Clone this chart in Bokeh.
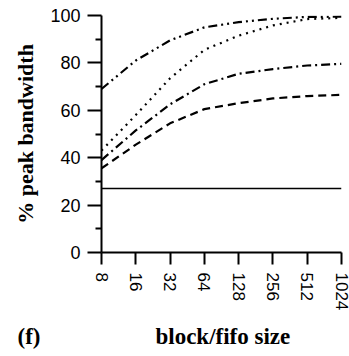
import math
from bokeh.plotting import figure
from bokeh.models import FixedTicker, Range1d, Title, ColumnDataSource
from bokeh.embed import file_html
from bokeh.resources import INLINE

# ---- data ----
sizes = [8, 16, 32, 64, 128, 256, 512, 1024]
series_dashdotdot = [69.0, 81.0, 89.5, 95.0, 97.2, 98.6, 99.4, 99.5]
series_dotted = [43.0, 58.0, 73.5, 85.5, 91.5, 95.8, 98.5, 99.0]
series_dashdot = [39.0, 51.5, 62.5, 71.0, 75.4, 77.4, 78.9, 79.6]
series_dashed = [35.5, 45.5, 54.5, 60.5, 63.0, 65.0, 66.0, 66.5]
series_solid = [27.0, 27.0, 27.0, 27.0, 27.0, 27.0, 27.0, 27.0]
y_ticks = [0, 20, 40, 60, 80, 100]
y_minor = [10, 30, 50, 70, 90]
panel_tag = "(f)"
x_title = "block/fifo size"
y_title = "% peak bandwidth"

xpos = [math.log2(s) for s in sizes]

p = figure(width=349, height=356, output_backend="svg", toolbar_location=None,
           x_range=Range1d(xpos[0], xpos[-1]), y_range=Range1d(0, 100),
           min_border_left=101, min_border_right=8, min_border_top=15,
           min_border_bottom=101)
p.outline_line_color = None
p.grid.visible = False
p.background_fill_color = "white"
p.border_fill_color = "white"

src = ColumnDataSource(dict(x=xpos, a=series_dashdotdot, b=series_dotted,
                            c=series_dashdot, d=series_dashed, e=series_solid))
p.line("x", "e", source=src, line_color="black", line_width=1.6)
p.line("x", "d", source=src, line_color="black", line_width=2.2, line_dash="8 5")
p.line("x", "c", source=src, line_color="black", line_width=2.2, line_dash="9 4 2 4")
p.line("x", "b", source=src, line_color="black", line_width=2.2, line_dash="2 5")
p.line("x", "a", source=src, line_color="black", line_width=2.2, line_dash="9 4 2 4 2 4")

# x axis
xa = p.xaxis[0]
xa.ticker = FixedTicker(ticks=[int(v) for v in xpos])
xa.major_label_overrides = {int(v): str(s) for v, s in zip(xpos, sizes)}
xa.major_label_orientation = "vertical"
xa.major_tick_in = 0
xa.major_tick_out = 12
xa.minor_tick_line_color = None
xa.major_label_standoff = 8
xa.axis_line_width = 2
xa.major_tick_line_width = 2
xa.major_label_text_font = "Liberation Sans"
xa.major_label_text_font_size = "17px"
xa.major_label_text_color = "black"

# y axis
ya = p.yaxis[0]
ya.ticker = FixedTicker(ticks=y_ticks, minor_ticks=y_minor)
ya.major_tick_in = 0
ya.major_tick_out = 14
ya.minor_tick_in = 0
ya.minor_tick_out = 6
ya.major_label_standoff = 7
ya.axis_line_width = 2
ya.major_tick_line_width = 2
ya.minor_tick_line_width = 2
ya.major_label_text_font = "Liberation Sans"
ya.major_label_text_font_size = "18px"
ya.major_label_text_color = "black"
ya.axis_label = y_title
ya.axis_label_text_font = "Liberation Serif"
ya.axis_label_text_font_style = "bold"
ya.axis_label_text_font_size = "22px"
ya.axis_label_text_color = "black"
ya.axis_label_standoff = 9

# bottom caption: panel tag and x-axis title on one line
caption = Title(text=panel_tag + "\u00a0" * 20 + x_title, align="left", offset=-84,
                standoff=16, text_font="Liberation Serif", text_font_style="bold",
                text_font_size="23px", text_color="black")
p.add_layout(caption, "below")

open("out.html", "w").write(file_html(p, INLINE))
